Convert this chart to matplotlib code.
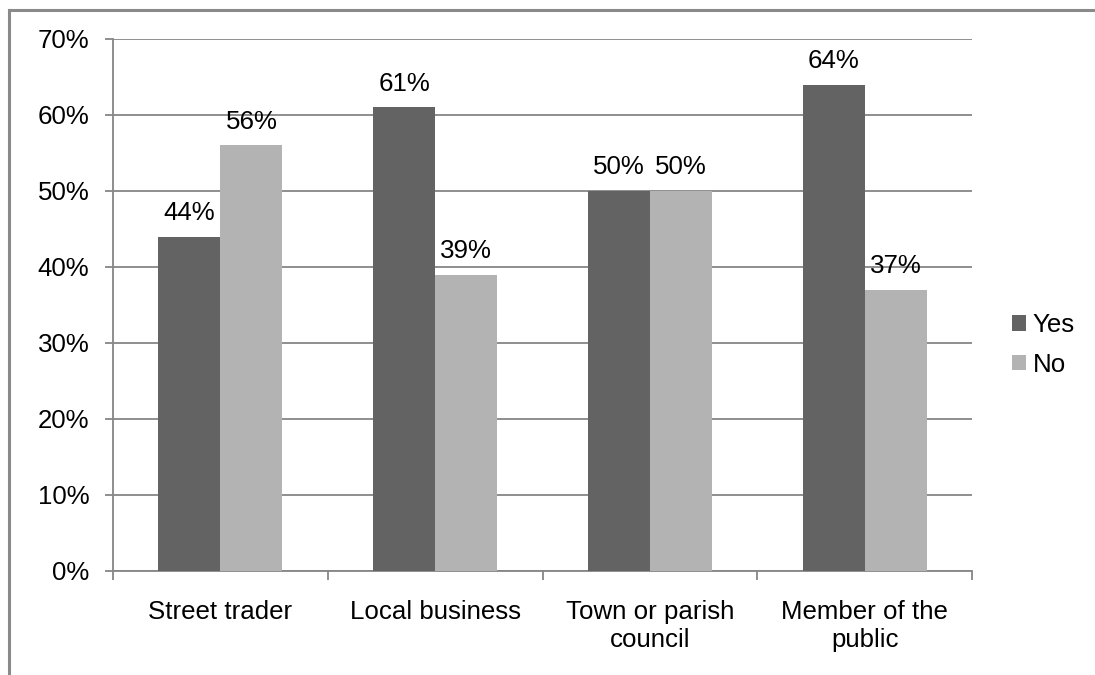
import numpy as np
import matplotlib
matplotlib.use('Agg')
from matplotlib import pyplot as plt
from matplotlib.lines import Line2D
from matplotlib.ticker import FuncFormatter

plt.rcParams['font.family'] = ['Liberation Sans', 'DejaVu Sans']

categories = ['Street trader', 'Local business', 'Town or parish\ncouncil',
              'Member of the\npublic']
yes_values = [44, 61, 50, 64]
no_values = [56, 39, 50, 37]
series_names = ['Yes', 'No']

col_yes = '#636363'
col_no = '#b3b3b3'
grid_col = '#868686'
fs = 18.6

W, H = 1095, 675
fig = plt.figure(figsize=(W / 100, H / 100), dpi=100)
ax = fig.add_axes([113 / W, 1 - 571 / H, (972 - 113) / W, (571 - 39) / H])

x = np.arange(len(categories))
bw = 0.289
b1 = ax.bar(x - bw / 2, yes_values, bw, color=col_yes, label=series_names[0],
            zorder=3)
b2 = ax.bar(x + bw / 2, no_values, bw, color=col_no, label=series_names[1],
            zorder=3)
for bars in (b1, b2):
    ax.bar_label(bars, labels=['%d%%' % v for v in bars.datavalues],
                 padding=8.5, fontsize=fs, color='black')

ax.set_xlim(-0.5, len(categories) - 0.5)
ax.set_ylim(0, 70)
ax.set_yticks(np.arange(0, 71, 10))
ax.yaxis.set_major_formatter(FuncFormatter(lambda v, p: '%d%%' % v))
ax.grid(True, axis='y', color=grid_col, linewidth=1.3, zorder=0)

# category labels in the middle, tick marks on the boundaries
ax.set_xticks(np.arange(-0.5, len(categories), 1.0))
ax.set_xticklabels([''] * (len(categories) + 1))
ax.set_xticks(x, minor=True)
ax.set_xticklabels(categories, minor=True, fontsize=fs, linespacing=1.2)
ax.tick_params(axis='x', which='minor', length=0, pad=21)
ax.tick_params(axis='x', which='major', length=6.5, width=1.3,
               color=grid_col)
ax.tick_params(axis='y', length=6, width=1.3, color=grid_col,
               labelsize=fs, pad=11)

for s in ('top', 'right'):
    ax.spines[s].set_visible(False)
for s in ('left', 'bottom'):
    ax.spines[s].set_color(grid_col)
    ax.spines[s].set_linewidth(1.3)

leg = ax.legend(loc='center left', bbox_to_anchor=(1012 / W, 1 - 345 / H),
                bbox_transform=fig.transFigure, frameon=False, fontsize=fs,
                handlelength=0.55, handleheight=0.55, handletextpad=0.25,
                labelspacing=0.6, borderpad=0, borderaxespad=0)

# outer chart frame (only top and left edges visible)
fig.add_artist(Line2D([9 / W, 9 / W], [0, 1 - 10 / H], color='#8a8a8a',
                      linewidth=2.2, transform=fig.transFigure))
fig.add_artist(Line2D([9 / W, 1], [1 - 10 / H, 1 - 10 / H], color='#8a8a8a',
                      linewidth=2.2, transform=fig.transFigure))

fig.savefig('out.png', dpi=100)
